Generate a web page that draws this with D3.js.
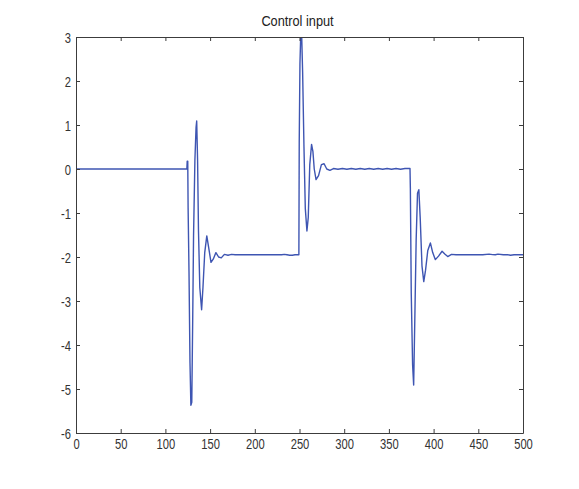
<!DOCTYPE html>
<html>
<head>
<meta charset="utf-8">
<script src="https://cdn.jsdelivr.net/npm/d3@7"></script>
<style>
  body { margin: 0; background: #fff; }
  svg { display: block; font-family: "Liberation Sans", Arial, sans-serif; }
  .axis path, .axis line { stroke: #3c3c3c; }
  .axis text { fill: #333; }
</style>
</head>
<body>
<svg width="579" height="489"></svg>
<script>
// Control input samples
const time = [
  0, 124, 124.4, 125, 125.4, 126.4, 127.5, 128.5, 129.5, 130.5, 131.5, 133, 134.3, 135, 136, 137, 138.5, 140.5, 142,
  144, 146.3, 148.5, 151, 153.5, 156.5, 159.5, 162.5, 166, 170, 174, 178, 200, 230, 233, 236, 239, 242, 245, 249.3,
  249.7, 250.5, 251.3, 252.5, 253.5, 255, 256.5, 258.3, 259.8, 261.5, 263.5, 265, 266.5, 268.5, 271.3, 274.5, 277.5,
  280.5, 284, 288, 293, 298, 303, 308, 313, 318, 323, 328, 333, 338, 343, 348, 353, 358, 363, 368, 373.6,
  374, 375, 376.5, 377.7, 379, 380.5, 382, 383.5, 385, 387, 389, 391, 393.5, 396.4, 399, 402, 405.5, 409.5, 412.5,
  415.8, 420, 425, 440, 455, 462, 466, 469, 472, 478, 483, 486, 490, 500
];
const control = [
  0, 0, 0.18, 0.18, -0.88, -2.33, -4.4, -5.37, -5.3, -3.5, -1.5, 0.2, 0.95, 1.09, 0.2, -1.4, -2.7, -3.2, -2.7,
  -1.9, -1.52, -1.8, -2.12, -2.05, -1.9, -2.0, -2.02, -1.94, -1.96, -1.94, -1.95, -1.95, -1.95, -1.94, -1.95, -1.96, -1.96, -1.95, -1.95,
  0.6, 2.4, 2.98, 2.98, 2.2, 0.5, -0.9, -1.41, -1.1, 0.1, 0.56, 0.4, 0.0, -0.24, -0.15, 0.1, 0.12,
  0.0, -0.03, 0.01, -0.005, 0.012, -0.005, 0.012, -0.005, 0.012, -0.005, 0.012, -0.005, 0.012, -0.005, 0.012, -0.005, 0.012, -0.005, 0.012, 0.01,
  -0.43, -2.82, -4.45, -4.91, -3.4, -1.6, -0.55, -0.47, -1.1, -2.2, -2.56, -2.3, -1.85, -1.68, -1.9, -2.06, -1.98, -1.87, -1.93,
  -1.99, -1.94, -1.95, -1.95, -1.95, -1.935, -1.945, -1.95, -1.935, -1.95, -1.95, -1.96, -1.95, -1.95
];
const xTicks = [0, 50, 100, 150, 200, 250, 300, 350, 400, 450, 500];
const yTicks = [-6, -5, -4, -3, -2, -1, 0, 1, 2, 3];
const title = "Control input";

const svg = d3.select("svg");
const margin = { top: 37, right: 56, bottom: 56, left: 76 };
const width = 579 - margin.left - margin.right;
const height = 489 - margin.top - margin.bottom;

const x = d3.scaleLinear().domain([0, 500]).range([0, width]);
const y = d3.scaleLinear().domain([-6, 3]).range([height, 0]);

const g = svg.append("g").attr("transform", `translate(${margin.left},${margin.top})`);

g.append("clipPath").attr("id", "plot-clip")
  .append("rect").attr("width", width).attr("height", height + 1).attr("y", -1);

const points = time.map((t, i) => [t, control[i]]);
const line = d3.line().x(d => x(d[0])).y(d => y(d[1]));

g.append("path")
  .datum(points)
  .attr("clip-path", "url(#plot-clip)")
  .attr("fill", "none")
  .attr("stroke", "#3e55b2")
  .attr("stroke-width", 1.4)
  .attr("stroke-linejoin", "round")
  .attr("d", line);

// box with inward ticks on every side, labels only bottom/left (plain hyphen minus like matlab)
const fmt = d => String(d);

g.append("g").attr("class", "axis").attr("transform", `translate(0,${height})`)
  .call(d3.axisBottom(x).tickValues(xTicks).tickFormat(fmt).tickSizeInner(-4).tickSizeOuter(0).tickPadding(6))
  .call(s => s.selectAll("text").attr("font-size", 14).attr("transform", "scale(0.8,1)"));

g.append("g").attr("class", "axis")
  .call(d3.axisLeft(y).tickValues(yTicks).tickFormat(fmt).tickSizeInner(-4).tickSizeOuter(0).tickPadding(5))
  .call(s => s.selectAll("text").attr("font-size", 14).attr("dy", "0.36em")
    .attr("transform", "translate(-1,0) scale(0.8,1)"));

g.append("g").attr("class", "axis")
  .call(d3.axisTop(x).tickValues(xTicks).tickSizeInner(-4).tickSizeOuter(0).tickFormat(""));

g.append("g").attr("class", "axis").attr("transform", `translate(${width},0)`)
  .call(d3.axisRight(y).tickValues(yTicks).tickSizeInner(-4).tickSizeOuter(0).tickFormat(""));

svg.append("text")
  .attr("transform", `translate(${margin.left + width / 2 - 2},26) scale(0.85,1)`)
  .attr("text-anchor", "middle")
  .attr("font-size", 15)
  .attr("fill", "#222")
  .text(title);
</script>
</body>
</html>
